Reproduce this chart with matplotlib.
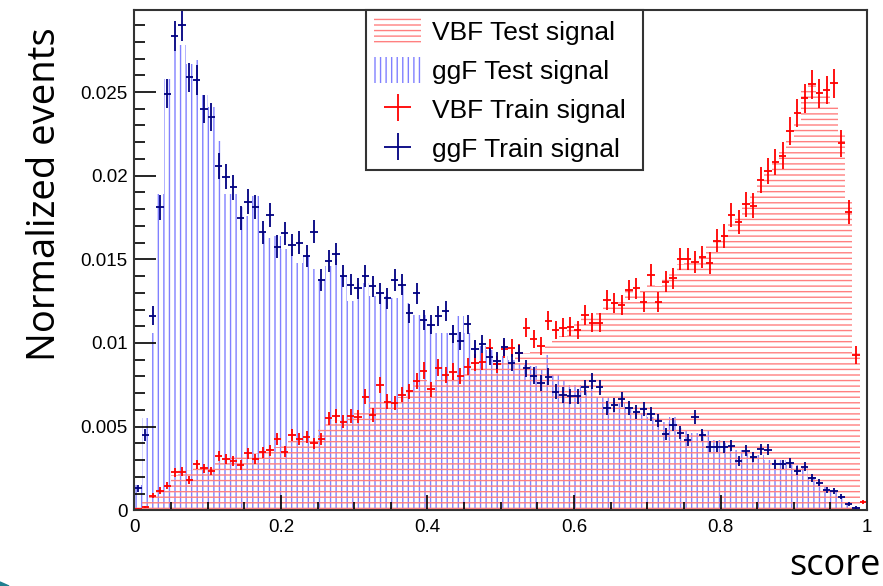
import numpy as np
import matplotlib.pyplot as plt
from matplotlib.patches import Patch, Polygon
from matplotlib.ticker import MultipleLocator, FuncFormatter

# 100 bins of width 0.01 on the BDT score
edges = np.linspace(0, 1, 101)
centers = 0.5 * (edges[1:] + edges[:-1])

vbf_test = [
    0.0002, 0.0005, 0.0010, 0.0012, 0.0017, 0.0021, 0.0024, 0.0024, 0.0027, 0.0027,
    0.0027, 0.0030, 0.0030, 0.0033, 0.0033, 0.0033, 0.0034, 0.0036, 0.0036, 0.0038,
    0.0040, 0.0042, 0.0043, 0.0043, 0.0044, 0.0050, 0.0052, 0.0054, 0.0054, 0.0055,
    0.0058, 0.0060, 0.0066, 0.0066, 0.0067, 0.0067, 0.0068, 0.0071, 0.0075, 0.0078,
    0.0076, 0.0078, 0.0079, 0.0080, 0.0080, 0.0082, 0.0086, 0.0087, 0.0087, 0.0088,
    0.0088, 0.0090, 0.0093, 0.0094, 0.0095, 0.0096, 0.0100, 0.0102, 0.0104, 0.0110,
    0.0113, 0.0115, 0.0116, 0.0120, 0.0122, 0.0125, 0.0125, 0.0131, 0.0130, 0.0132,
    0.0135, 0.0134, 0.0138, 0.0142, 0.0147, 0.0148, 0.0150, 0.0152, 0.0158, 0.0162,
    0.0166, 0.0172, 0.0176, 0.0181, 0.0188, 0.0196, 0.0202, 0.0208, 0.0214, 0.0222,
    0.0232, 0.0252, 0.0254, 0.0250, 0.0248, 0.0242, 0.0225, 0.0186, 0.0094, 0.0,
]

ggf_test = [
    0.0015, 0.0055, 0.0106, 0.0189, 0.0258, 0.0275, 0.0278, 0.0267, 0.0269, 0.0248,
    0.0241, 0.0221, 0.0189, 0.0189, 0.0181, 0.0176, 0.0188, 0.0166, 0.0163, 0.0164,
    0.0156, 0.0156, 0.0148, 0.0152, 0.0144, 0.0138, 0.0146, 0.0150, 0.0140, 0.0125,
    0.0136, 0.0136, 0.0128, 0.0130, 0.0128, 0.0127, 0.0134, 0.0124, 0.0117, 0.0117,
    0.0110, 0.0106, 0.0106, 0.0111, 0.0116, 0.0106, 0.0101, 0.0098, 0.0096, 0.0094,
    0.0092, 0.0090, 0.0088, 0.0087, 0.0086, 0.0084, 0.0093, 0.0081, 0.0078, 0.0075,
    0.0075, 0.0072, 0.0075, 0.0068, 0.0068, 0.0066, 0.0064, 0.0062, 0.0060, 0.0058,
    0.0056, 0.0052, 0.0053, 0.0056, 0.0049, 0.0048, 0.0046, 0.0047, 0.0048, 0.0042,
    0.0040, 0.0038, 0.0036, 0.0035, 0.0035, 0.0033, 0.0030, 0.0031, 0.0030, 0.0029,
    0.0027, 0.0025, 0.0020, 0.0017, 0.0014, 0.0011, 0.0008, 0.0004, 0.0002, 0.0,
]

vbf_train = [
    0.0001, 0.0002, 0.00088, 0.00118, 0.00147, 0.00227, 0.00231, 0.00181, 0.00275, 0.00251,
    0.00235, 0.00325, 0.00305, 0.00295, 0.00271, 0.0034, 0.00305, 0.00347, 0.0036, 0.00424,
    0.0035, 0.0045, 0.00424, 0.0044, 0.0040, 0.00424, 0.0055, 0.00564, 0.0053, 0.00564,
    0.0056, 0.0068, 0.0057, 0.0075, 0.0065, 0.0064, 0.0069, 0.0071, 0.0077, 0.00835,
    0.00723, 0.00853, 0.00809, 0.00829, 0.00803, 0.00859, 0.00882, 0.00888, 0.00968, 0.00874,
    0.00962, 0.00968, 0.00942, 0.01092, 0.01022, 0.00982, 0.01133, 0.01078, 0.01092, 0.01098,
    0.01078, 0.01167, 0.01121, 0.01121, 0.01257, 0.01237, 0.01227, 0.01317, 0.01327, 0.01247,
    0.01406, 0.01247, 0.01367, 0.01386, 0.0150, 0.0150, 0.01486, 0.01512, 0.0148, 0.01611,
    0.0164, 0.01765, 0.01725, 0.01829, 0.01821, 0.01974, 0.02028, 0.02084, 0.0212, 0.02267,
    0.02376, 0.02462, 0.02546, 0.02492, 0.02512, 0.02552, 0.02193, 0.01781, 0.00928, 0.0005,
]

ggf_train = [
    0.00131, 0.0045, 0.01163, 0.0181, 0.0249, 0.02835, 0.02898, 0.02588, 0.02572, 0.02398,
    0.0235, 0.0206, 0.01994, 0.0193, 0.01749, 0.01845, 0.01813, 0.01661, 0.01765, 0.01576,
    0.01655, 0.01586, 0.016, 0.0152, 0.01665, 0.01376, 0.0149, 0.01532, 0.014, 0.01347,
    0.01327, 0.014, 0.0134, 0.01297, 0.01267, 0.01376, 0.01347, 0.01177, 0.01297, 0.01137,
    0.01108, 0.01161, 0.01193, 0.01054, 0.01012, 0.01112, 0.00962, 0.00994, 0.00918, 0.00894,
    0.00978, 0.00882, 0.00938, 0.00849, 0.00805, 0.00759, 0.00799, 0.00709, 0.00689, 0.00683,
    0.00683, 0.00735, 0.00775, 0.00735, 0.0061, 0.0063, 0.00663, 0.0061, 0.0059, 0.00604,
    0.00574, 0.00536, 0.00456, 0.0051, 0.00464, 0.0042, 0.00556, 0.0045, 0.0038, 0.0038,
    0.00378, 0.00386, 0.00295, 0.00357, 0.00317, 0.00365, 0.00361, 0.00275, 0.00275, 0.00281,
    0.00237, 0.00261, 0.00191, 0.00165, 0.00122, 0.00115, 0.00082, 0.00038, 0.00016, 0.0,
]

n_train = 34000  # events behind the normalised train histograms (poisson error size)

vbf_hatch = '#ff8080'
ggf_hatch = '#8080ff'
vbf_col = '#ff0000'
ggf_col = '#000080'

plt.rcParams['hatch.linewidth'] = 1.0
plt.rcParams['font.family'] = ['Liberation Sans', 'DejaVu Sans']

fig = plt.figure(figsize=(8.83, 5.86), dpi=100)
ax = fig.add_axes([0.1523, 0.1292, 0.8296, 0.8537])

ax.stairs(ggf_test, edges, fill=True, facecolor='none', edgecolor=ggf_hatch, hatch='|||', lw=0)
ax.stairs(vbf_test, edges, fill=True, facecolor='none', edgecolor=vbf_hatch, hatch='---', lw=0)

def train_points(vals, color):
    v = np.asarray(vals)
    m = v > 0
    return ax.errorbar(centers[m], v[m], xerr=0.005, yerr=np.sqrt(v[m] / n_train),
                       fmt='none', ecolor=color, elinewidth=1.3, capsize=0)

eb_vbf = train_points(vbf_train, vbf_col)
eb_ggf = train_points(ggf_train, ggf_col)

ax.set_xlim(0, 1)
ax.set_ylim(0, 0.0299)

ax.xaxis.set_major_locator(MultipleLocator(0.2))
ax.xaxis.set_minor_locator(MultipleLocator(0.05))
ax.yaxis.set_major_locator(MultipleLocator(0.005))
ax.yaxis.set_minor_locator(MultipleLocator(0.001))
fmt = FuncFormatter(lambda v, p: f'{v:g}')
ax.xaxis.set_major_formatter(fmt)
ax.yaxis.set_major_formatter(fmt)

ax.tick_params(axis='x', which='major', direction='in', length=11, width=1.2, pad=6, labelsize=13.5)
ax.tick_params(axis='x', which='minor', direction='in', length=5.5, width=1.2)
ax.tick_params(axis='y', which='major', direction='in', length=16, width=1.2, pad=5, labelsize=13.5)
ax.tick_params(axis='y', which='minor', direction='in', length=8, width=1.2)
for s in ax.spines.values():
    s.set_linewidth(1.5)
    s.set_color('#333333')

handles = [
    Patch(facecolor='none', edgecolor=vbf_hatch, hatch='---', lw=0),
    Patch(facecolor='none', edgecolor=ggf_hatch, hatch='|||', lw=0),
    eb_vbf, eb_ggf,
]
labels = ['VBF Test signal', 'ggF Test signal', 'VBF Train signal', 'ggF Train signal']
leg = ax.legend(handles, labels, loc='upper left', bbox_to_anchor=(0.316, 1.0, 0.378, 0.0),
                mode='expand', fontsize=19, frameon=True, fancybox=False, edgecolor='#333333',
                framealpha=1, borderpad=0.3, labelspacing=0.48, handlelength=1.8,
                handleheight=1.1, handletextpad=0.4, borderaxespad=0)
leg.get_frame().set_linewidth(1.5)

fig.text(45 / 883, 1 - 194 / 586, 'Normalized events', rotation=90, ha='center', va='center',
         fontsize=27.5, family=['Open Sans', 'DejaVu Sans'])
fig.text(0.997, 0.004, 'score', ha='right', va='bottom', fontsize=26,
         family=['Open Sans', 'DejaVu Sans'])

# bit of the slide decoration in the lower left corner
fig.patches.append(Polygon([[0, 0], [0, 4 / 586], [9 / 883, 0]], closed=True,
                           transform=fig.transFigure, color='#1f7f8f'))

fig.savefig('out.png', dpi=100)
